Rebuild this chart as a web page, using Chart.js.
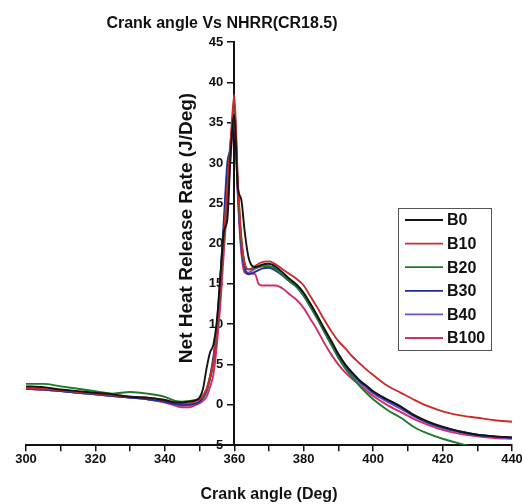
<!DOCTYPE html>
<html>
<head>
<meta charset="utf-8">
<script src="https://cdn.jsdelivr.net/npm/chart.js@4/dist/chart.umd.min.js"></script>
<style>
html,body{margin:0;padding:0;background:#fff;}
#wrap{width:522px;height:504px;position:relative;}
</style>
</head>
<body>
<div id="wrap"><canvas id="c" width="522" height="504"></canvas></div>
<script>
const chartTitle = 'Crank angle Vs NHRR(CR18.5)';
const xTitle = 'Crank angle (Deg)';
const yTitle = 'Net Heat Release Rate (J/Deg)';
const seriesNames = ['B0', 'B10', 'B20', 'B30', 'B40', 'B100'];
const seriesColors = ['#141414', '#cc2b2b', '#1e7a2a', '#1f2f95', '#7150c2', '#d12d6e'];

const angles = [300,305,310,315,320,325,330,335,340,343,345,347,349,
  350,351,352,353,354,355,356,357,358,359,360,361,362,363,364,365,366,367,368,
  370,372,374,376,378,380,382,384,386,388,390,392,394,396,398,400,
  404,408,412,416,420,425,430,435,440];

const b0 = [2.3,2.2,1.9,1.7,1.5,1.3,1.0,0.9,0.6,0.3,0.3,0.4,0.6,
  0.9,2.0,4.5,6.5,7.5,10.5,16,21.5,23,31.5,36,27,25.5,21.5,18.5,17.3,17.1,17.2,17.4,
  17.5,17.1,16.4,15.6,14.9,13.9,12.5,11.0,9.4,7.9,6.3,5.0,4.0,3.1,2.4,1.7,
  0.7,-0.2,-1.3,-2.1,-2.7,-3.3,-3.7,-3.9,-4.0];
const b10 = [2.1,2.0,1.8,1.6,1.4,1.2,1.0,0.9,0.6,0.3,0.2,0.2,0.5,
  0.7,1.2,2.0,3.5,5.5,9.5,15,21,27,33,38.5,28,21,17.5,16.8,16.9,17.2,17.5,17.7,
  17.8,17.4,16.8,16.2,15.6,14.8,13.4,12.0,10.5,9.1,7.9,7.0,6.0,5.2,4.4,3.7,
  2.4,1.5,0.6,-0.2,-0.8,-1.3,-1.6,-1.9,-2.1];
const b20 = [2.6,2.6,2.3,2.0,1.7,1.4,1.6,1.4,1.0,0.5,0.4,0.5,0.6,
  0.7,1.0,1.8,3.2,5.2,9,14.5,20.5,26.5,32.5,37,27.5,20.5,17.5,16.8,16.8,17.0,17.1,17.2,
  17.2,16.8,16.1,15.3,14.6,13.5,12.1,10.6,9.0,7.4,5.8,4.5,3.4,2.4,1.5,0.7,
  -0.6,-1.6,-2.8,-3.6,-4.2,-4.8,-5.3,-5.6,-5.9];
const b30 = [2.0,1.9,1.7,1.5,1.3,1.1,0.9,0.7,0.4,0.1,0.0,0.0,0.2,
  0.4,0.9,1.8,3.5,6,10,16,23,30,32,37.5,27,20,17,16.2,16.3,16.5,16.7,16.9,
  17.0,16.6,16.0,15.3,14.7,13.7,12.3,10.8,9.2,7.8,6.2,4.9,3.9,3.0,2.3,1.6,
  0.6,-0.3,-1.4,-2.2,-2.8,-3.3,-3.7,-3.9,-4.1];
const b40 = [2.0,1.9,1.7,1.5,1.3,1.1,0.9,0.7,0.4,0.1,-0.1,0.0,0.2,
  0.4,0.8,1.6,3.2,5.5,9.5,15.5,22,28,33,36.5,26.5,19.5,16.8,16.4,16.6,16.9,17.1,17.2,
  17.2,16.8,16.1,15.3,14.6,13.5,12.1,10.6,9.0,7.5,6.0,4.7,3.7,2.8,2.1,1.4,
  0.4,-0.5,-1.5,-2.3,-2.9,-3.4,-3.8,-4.0,-4.1];
const b100 = [2.0,1.9,1.7,1.5,1.3,1.1,0.9,0.7,0.3,-0.1,-0.3,-0.3,0.0,
  0.2,0.5,1.0,2.2,3.8,7.5,12.5,19,25,31,36.5,26,19,16.4,16.3,16.3,16.2,15.0,14.8,
  14.8,14.8,14.4,13.7,13.0,12.0,10.6,9.2,7.6,6.2,5.0,4.0,3.2,2.5,1.8,1.1,
  0.0,-0.9,-1.8,-2.5,-3.1,-3.6,-3.9,-4.1,-4.2];

const seriesValues = [b0, b10, b20, b30, b40, b100];
const xTickValues = [300, 320, 340, 360, 380, 400, 420, 440];
const yTickValues = [-5, 0, 5, 10, 15, 20, 25, 30, 35, 40, 45];

const FONT = '"Liberation Sans", Arial, Helvetica, sans-serif';

const datasets = seriesNames.map((name, i) => ({
  label: name,
  data: angles.map((a, j) => ({x: a, y: seriesValues[i][j]})),
  borderColor: seriesColors[i],
  backgroundColor: seriesColors[i],
  borderWidth: 1.9,
  pointRadius: 0,
  fill: false,
  cubicInterpolationMode: 'monotone'
}));

// shift the y tick labels of the axis placed at x = 360 to the left of its tick marks
const yLabelShift = {
  id: 'yLabelShift',
  beforeDraw(chart) {
    const s = chart.scales.y;
    const items = s.getLabelItems();
    if (!s._shifted) {
      items.forEach(it => {
        if (it.options && it.options.translation) it.options.translation[0] -= 11;
      });
      s._shifted = true;
    }
  }
};

const extras = {
  id: 'extras',
  afterDraw(chart) {
    const ctx = chart.ctx;
    ctx.save();
    ctx.fillStyle = '#111';
    ctx.font = 'bold 16px ' + FONT;
    ctx.textAlign = 'center';
    ctx.textBaseline = 'middle';
    ctx.fillText(chartTitle, 222, 24);
    ctx.save();
    ctx.translate(187, 228);
    ctx.rotate(-Math.PI / 2);
    ctx.font = 'bold 19px ' + FONT;
    ctx.fillText(yTitle, 0, 0);
    ctx.restore();
    const bx = 398, by = 208, bw = 93, bh = 142;
    ctx.fillStyle = '#fff';
    ctx.fillRect(bx, by, bw, bh);
    ctx.strokeStyle = '#555';
    ctx.lineWidth = 1;
    ctx.strokeRect(bx + 0.5, by + 0.5, bw, bh);
    ctx.font = 'bold 16px ' + FONT;
    ctx.textAlign = 'left';
    chart.data.datasets.forEach((ds, i) => {
      const yy = by + 12 + i * 23.6;
      ctx.strokeStyle = ds.borderColor;
      ctx.lineWidth = 1.8;
      ctx.beginPath();
      ctx.moveTo(405, yy);
      ctx.lineTo(443, yy);
      ctx.stroke();
      ctx.fillStyle = '#111';
      ctx.fillText(ds.label, 447, yy + 1);
    });
    ctx.restore();
  }
};

new Chart(document.getElementById('c'), {
  type: 'line',
  data: { datasets },
  options: {
    responsive: false,
    animation: false,
    layout: { padding: { top: 42, left: 26, right: 10, bottom: 0 } },
    plugins: {
      legend: { display: false },
      title: { display: false },
      tooltip: { enabled: false }
    },
    scales: {
      x: {
        type: 'linear',
        min: 300, max: 440,
        afterFit(s) { s.paddingLeft = 0; s.paddingRight = 0; },
        afterBuildTicks(s) {
          const t = [];
          for (let v = 300; v <= 440; v += 10) t.push({value: v});
          s.ticks = t;
        },
        ticks: {
          autoSkip: false,
          maxRotation: 0,
          padding: 0,
          color: '#111',
          font: { family: FONT, size: 13, weight: 'bold' },
          callback: (v) => xTickValues.includes(v) ? String(v) : ''
        },
        grid: { drawOnChartArea: false, drawTicks: true, tickLength: 6, color: '#111', lineWidth: 1.5 },
        border: { display: true, color: '#111', width: 2 },
        title: { display: true, text: xTitle, color: '#111', font: { family: FONT, size: 16, weight: 'bold' }, padding: { top: 18, bottom: 0 } }
      },
      y: {
        type: 'linear',
        min: -5, max: 45,
        position: { x: 360 },
        afterBuildTicks(s) { s.ticks = yTickValues.map(v => ({value: v})); },
        ticks: {
          autoSkip: false,
          padding: 4,
          color: '#111',
          font: { family: FONT, size: 13, weight: 'bold' }
        },
        grid: { drawOnChartArea: false, drawTicks: true, tickLength: 6, color: '#111', lineWidth: 1.5 },
        border: { display: true, color: '#111', width: 2 }
      }
    }
  },
  plugins: [yLabelShift, extras]
});
</script>
</body>
</html>
